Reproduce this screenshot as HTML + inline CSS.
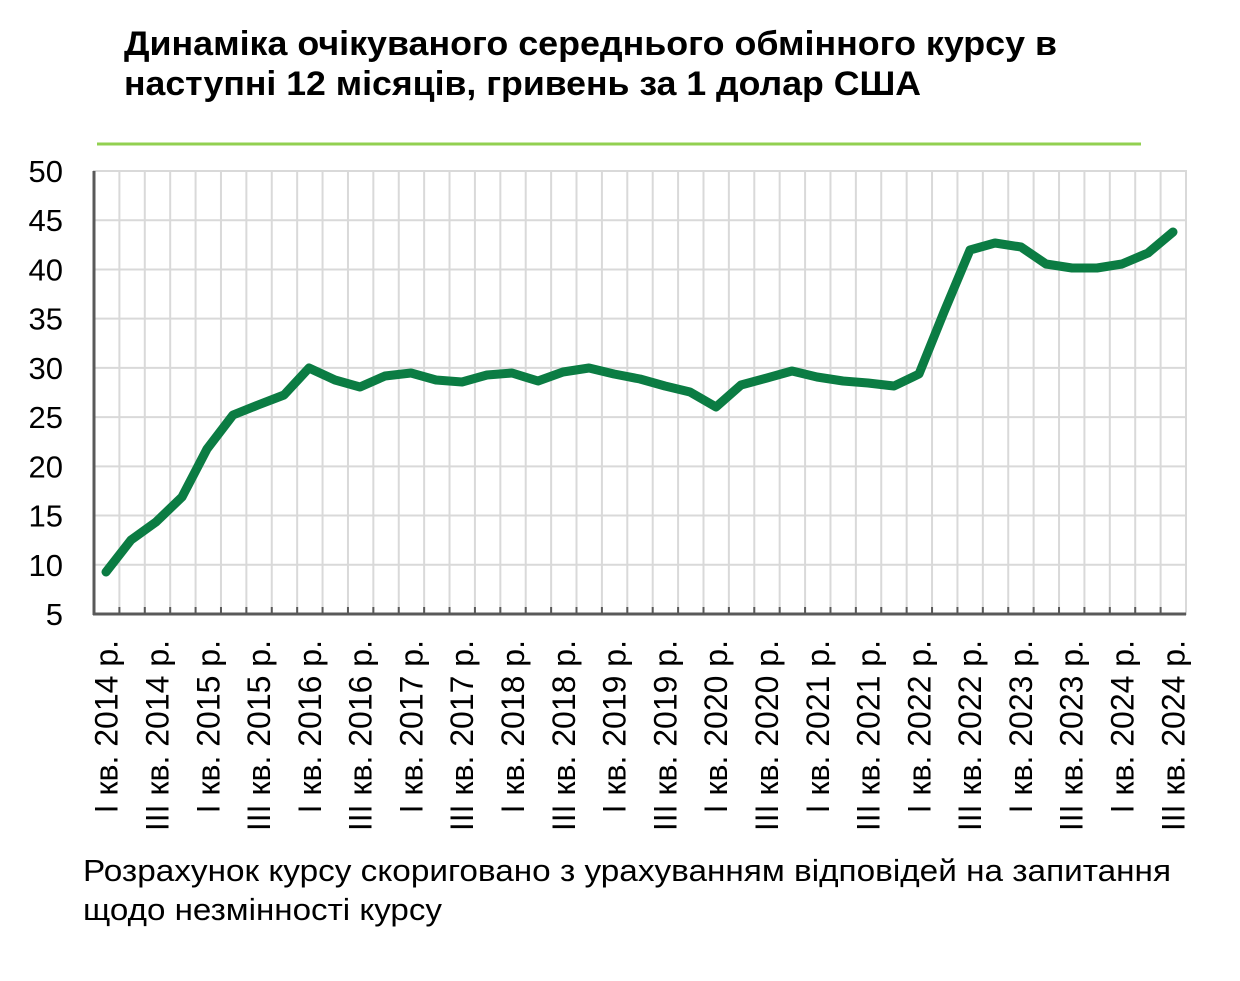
<!DOCTYPE html>
<html><head><meta charset="utf-8"><style>
html,body{margin:0;padding:0;background:#fff;}
svg{display:block;font-family:"Liberation Sans",Arial,sans-serif;}
</style></head><body>
<svg width="1240" height="981" viewBox="0 0 1240 981" xmlns="http://www.w3.org/2000/svg">
<text x="124" y="55" font-size="34" font-weight="bold" fill="#000" textLength="933" lengthAdjust="spacingAndGlyphs">Динаміка очікуваного середнього обмінного курсу в</text>
<text x="124" y="95" font-size="34" font-weight="bold" fill="#000" textLength="797" lengthAdjust="spacingAndGlyphs">наступні 12 місяців, гривень за 1 долар США</text>
<line x1="97" y1="144" x2="1141" y2="144" stroke="#92d050" stroke-width="3"/>
<g stroke="#d9d9d9" stroke-width="2" id="g2"></g>
<g font-size="31" fill="#000" text-anchor="end" id="yl"></g>
<g font-size="32" fill="#000" text-anchor="end" id="xl"></g>
<rect x="94" y="171" width="1092" height="443" fill="none" stroke="#d9d9d9" stroke-width="2"/>
<line x1="94" y1="171" x2="94" y2="615" stroke="#595959" stroke-width="3"/>
<line x1="93" y1="614" x2="1186" y2="614" stroke="#595959" stroke-width="3"/>
<g id="ticks" stroke="#595959" stroke-width="2"></g>
<polyline fill="none" stroke="#0b7c43" stroke-width="9" stroke-linejoin="round" stroke-linecap="round" points="106,572 131,540 156,522 182,497 207,449 233,415 258,405 284,395 309,368 335,380 360,387 385,376 411,373 436,380 462,382 487,375 512,373 538,381 563,372 589,368 614,374 640,379 665,386 690,392 716,407 741,385 767,378 792,371 817,377 843,381 868,383 894,386 919,374 944,312 970,250 995,243 1021,247 1046,264 1072,268 1097,268 1122,264 1148,253 1173,232"/>
<text x="83" y="881" font-size="31" fill="#000" textLength="1088" lengthAdjust="spacingAndGlyphs">Розрахунок курсу скориговано з урахуванням відповідей на запитання</text>
<text x="83" y="920" font-size="31" fill="#000" textLength="359" lengthAdjust="spacingAndGlyphs">щодо незмінності курсу</text>
<script>
var ns="http://www.w3.org/2000/svg";
function el(t,a,p,txt){var e=document.createElementNS(ns,t);for(var k in a)e.setAttribute(k,a[k]);if(txt)e.textContent=txt;document.getElementById(p).appendChild(e);}
for(var v=5;v<=50;v+=5){var y=614-(v-5)*443/45;
 if(v>5)el("line",{x1:94,y1:y,x2:1186,y2:y},"g2");
 el("text",{x:63,y:y+11},"yl",String(v));}
for(var k=1;k<43;k++){var x=94+k*1092/43;el("line",{x1:x,y1:171,x2:x,y2:614},"g2");el("line",{x1:x,y1:607,x2:x,y2:614},"ticks");}
for(var i=0;i<22;i++){var q=i*2;var yr=2014+Math.floor(q/4);var qq=(q%4)==0?"I":"III";
 var x=94+(q+0.5)*1092/43+11;
 el("text",{x:x,y:640,transform:"rotate(-90 "+x+" 640)"},"xl",qq+" кв. "+yr+" р.");}
</script>
</svg>
</body></html>
